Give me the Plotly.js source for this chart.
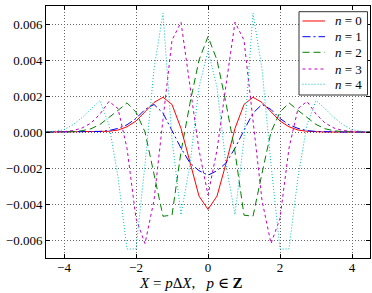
<!DOCTYPE html>
<html>
<head>
<meta charset="utf-8">
<script src="https://cdn.plot.ly/plotly-3.0.1.min.js"></script>
<style>html,body{margin:0;padding:0;background:#fff;}#chart{width:372px;height:293px;}</style>
</head>
<body>
<div id="chart"></div>
<script>
// sample positions X = p*dX
const xs = [-4.5,-4.25,-4.0,-3.75,-3.5,-3.25,-3.0,-2.75,-2.5,-2.25,-2.0,-1.75,-1.5,-1.25,-1.0,-0.75,-0.5,-0.25,
            0.0,0.25,0.5,0.75,1.0,1.25,1.5,1.75,2.0,2.25,2.5,2.75,3.0,3.25,3.5,3.75,4.0,4.25,4.5];

const n0 = [0,0,0,0,0,0,0.00001,0.00004,0.00011,0.00029,0.00061,0.0011,0.00164,0.00193,0.00153,0.0002,-0.00175,-0.00356,
            -0.0043,-0.00356,-0.00175,0.0002,0.00153,0.00193,0.00164,0.0011,0.00061,0.00029,0.00011,0.00004,0.00001,0,0,0,0,0,0];
const n1 = [0,0,0,0,0,0.00001,0.00003,0.00008,0.0002,0.0004,0.00075,0.00125,0.00153,0.00105,0.0001,-0.0009,-0.00172,-0.00215,
            -0.0024,-0.00215,-0.00172,-0.0009,0.0001,0.00105,0.00153,0.00125,0.00075,0.0004,0.0002,0.00008,0.00003,0.00001,0,0,0,0,0];
const n2 = [0,0,0,0.00002,0.00007,0.00018,0.00042,0.0008,0.0012,0.00162,0.0011,0.0,-0.0023,-0.00468,-0.00462,-0.0011,0.0016,0.004,
            0.0053,0.004,0.0016,-0.0011,-0.00462,-0.00468,-0.0023,0.0,0.0011,0.00162,0.0012,0.0008,0.00042,0.00018,0.00007,0.00002,0,0,0];
const n3 = [0,0,0.00002,0.00008,0.00022,0.0005,0.001,0.0017,0.0013,-0.0009,-0.0048,-0.0062,-0.0038,0.0007,0.0051,0.0061,0.0026,-0.001,
            -0.0035,-0.001,0.0026,0.0061,0.0051,0.0007,-0.0038,-0.0062,-0.0048,-0.0009,0.0013,0.0017,0.001,0.0005,0.00022,0.00008,0.00002,0,0];
const n4 = [0.00001,0.00004,0.00013,0.0004,0.0008,0.0013,0.00175,0.0004,-0.0025,-0.0065,-0.0065,-0.0018,0.0035,0.0066,-0.0004,-0.0046,-0.0018,0.0025,
            0.0045,0.0025,-0.0018,-0.0046,-0.0004,0.0066,0.0035,-0.0018,-0.0065,-0.0065,-0.0025,0.0004,0.00175,0.0013,0.0008,0.0004,0.00013,0.00004,0.00001];

const seriesNames = ['<i>n</i> = 0','<i>n</i> = 1','<i>n</i> = 2','<i>n</i> = 3','<i>n</i> = 4'];
const seriesData = [n0, n1, n2, n3, n4];
const colors = ['#ff0000','#0000ff','#008000','#bf00bf','#00bfbf'];
const dashes = ['solid','8px,3px,2px,3px','7px,4px','3px,3px','1px,2px'];

const traces = seriesData.map((d, i) => ({
  x: xs, y: d, type: 'scatter', mode: 'lines', name: seriesNames[i],
  line: {color: colors[i], width: 1, dash: dashes[i]}
}));

const serif = "'Liberation Serif', 'Times New Roman', 'DejaVu Serif', serif";
const axisCommon = {
  showline: true, mirror: 'ticks', linecolor: '#000', linewidth: 1,
  ticks: 'inside', ticklen: 4, tickcolor: '#000', tickwidth: 1,
  showgrid: true, gridcolor: '#666', gridwidth: 1, griddash: '1px,2px',
  zeroline: false, tickfont: {family: serif, size: 13, color: '#000'}
};

// custom legend (box, line samples, labels) in paper coordinates
const legendRows = [0.9405, 0.8782, 0.8163, 0.75, 0.6893];
const shapes = [{type: 'rect', xref: 'paper', yref: 'paper', x0: 0.7809, x1: 0.9923, y0: 0.6468, y1: 0.9774,
                 fillcolor: '#fff', line: {color: '#333', width: 1}, layer: 'above'}];
const annotations = [];
legendRows.forEach((ry, i) => {
  shapes.push({type: 'line', xref: 'paper', yref: 'paper', x0: 0.7917, x1: 0.8611, y0: ry, y1: ry,
               line: {color: colors[i], width: 1, dash: dashes[i]}, layer: 'above'});
  annotations.push({xref: 'paper', yref: 'paper', x: 0.8873, y: ry, xanchor: 'left', yanchor: 'middle',
                    showarrow: false, text: seriesNames[i], font: {family: serif, size: 13, color: '#000'}});
});
annotations.push({
  xref: 'paper', yref: 'paper', x: 0.449, y: -0.139, xanchor: 'center', yanchor: 'bottom',
  showarrow: false,
  text: '<i>X</i> = <i>p</i>Δ<i>X</i>,\u00a0\u00a0\u00a0<i>p</i> ∈ <b>Z</b>',
  font: {family: serif, size: 15, color: '#000'}
});

const layout = {
  width: 372, height: 293,
  margin: {l: 46, r: 2, t: 6, b: 35},
  paper_bgcolor: '#fff', plot_bgcolor: '#fff',
  showlegend: false,
  xaxis: Object.assign({}, axisCommon, {range: [-4.5, 4.5], dtick: 2, tick0: 0, ticklabelstandoff: -3}),
  yaxis: Object.assign({}, axisCommon, {range: [-0.007, 0.007], dtick: 0.002, tick0: 0, tickformat: '.3f'}),
  shapes: shapes,
  annotations: annotations
};

Plotly.newPlot('chart', traces, layout, {displayModeBar: false, staticPlot: true});
</script>
</body>
</html>
